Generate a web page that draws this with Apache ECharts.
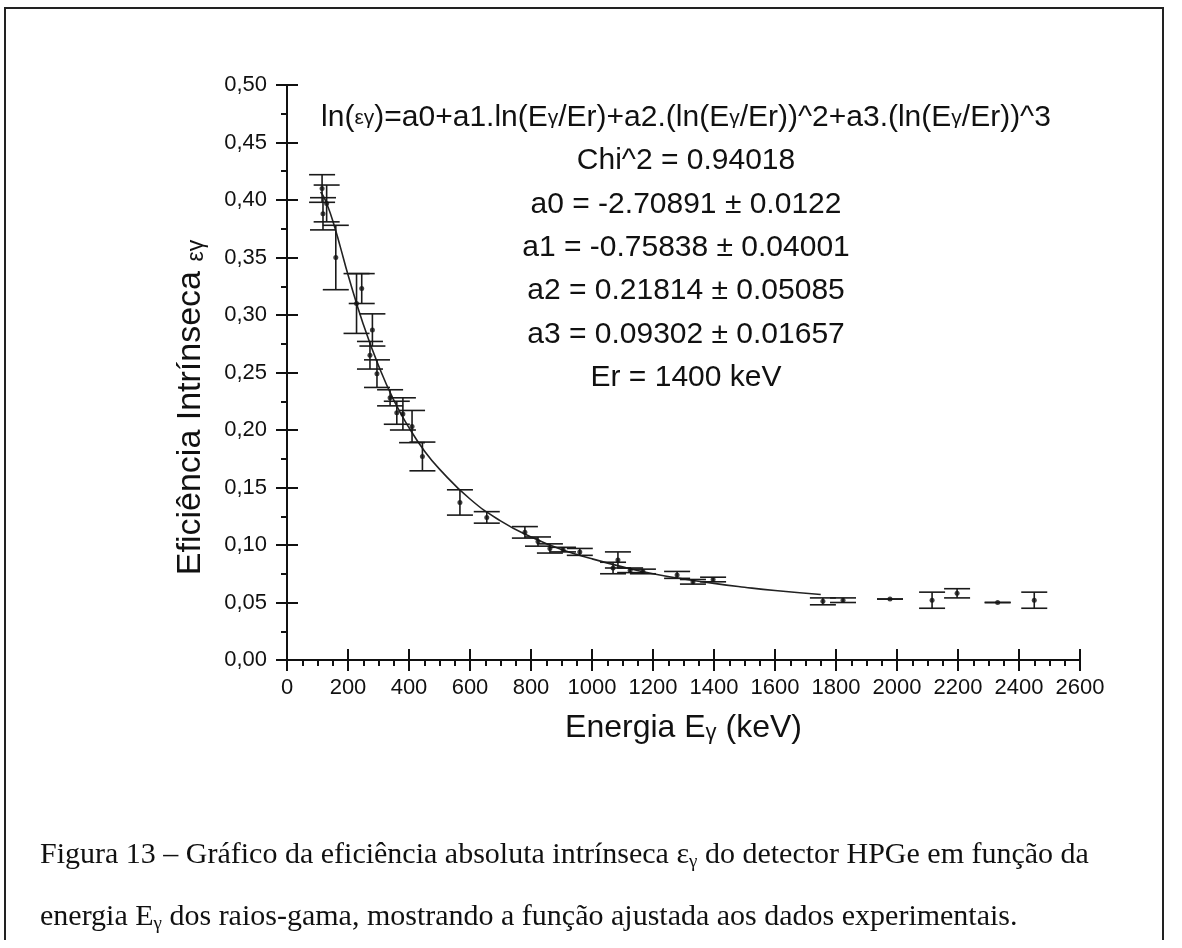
<!DOCTYPE html>
<html>
<head>
<meta charset="utf-8">
<script src="https://cdn.jsdelivr.net/npm/echarts@6/dist/echarts.min.js"></script>
<style>
html,body{margin:0;padding:0;background:#fff}
#chart{width:1182px;height:948px}
</style>
</head>
<body>
<div id="chart"></div>
<script>
// pontos experimentais: energia (keV), eficiencia e incerteza
var energia = [115, 130, 118, 160, 245, 228, 280, 272, 295, 338,
               360, 380, 410, 444, 567, 655, 780, 823, 862, 905,
               960, 1085, 1069, 1125, 1167, 1279, 1331, 1397, 1757, 1823,
               1977, 2115, 2197, 2330, 2450]
var eficiencia = [0.410, 0.397, 0.388, 0.350, 0.323, 0.310, 0.287, 0.265, 0.249, 0.228,
                  0.215, 0.214, 0.203, 0.177, 0.137, 0.124, 0.111, 0.103, 0.097, 0.096,
                  0.094, 0.087, 0.080, 0.078, 0.077, 0.074, 0.068, 0.070, 0.051, 0.052,
                  0.053, 0.052, 0.058, 0.050, 0.052]
var incerteza = [0.012, 0.016, 0.014, 0.028, 0.013, 0.026, 0.014, 0.012, 0.012, 0.007,
                 0.010, 0.014, 0.014, 0.0125, 0.011, 0.005, 0.005, 0.004, 0.004, 0.002,
                 0.003, 0.007, 0.005, 0.002, 0.002, 0.003, 0.002, 0.002, 0.003, 0.002,
                 0.000, 0.007, 0.004, 0.000, 0.007]

// curva ajustada (lida sobre o grafico)
var curvaE = [110, 120, 130, 150, 175, 200, 250, 300, 350, 400, 450, 500, 600, 700, 800,
              900, 1000, 1100, 1200, 1300, 1400, 1500, 1600, 1750]
var curvaEf = [0.407, 0.403, 0.397, 0.382, 0.359, 0.335, 0.292, 0.256, 0.226, 0.202, 0.182,
               0.166, 0.140, 0.121, 0.107, 0.096, 0.088, 0.081, 0.075, 0.0705, 0.0666, 0.0633,
               0.0604, 0.0569]

var textoAjuste = ['Chi^2 = 0.94018',
                   'a0 = -2.70891 \u00b1 0.0122',
                   'a1 = -0.75838 \u00b1 0.04001',
                   'a2 = 0.21814 \u00b1 0.05085',
                   'a3 = 0.09302 \u00b1 0.01657',
                   'Er = 1400 keV']

var pontos = []
var barras = []
for (var i = 0; i < energia.length; i++) {
  pontos.push([energia[i], eficiencia[i]])
  barras.push([energia[i], eficiencia[i], incerteza[i]])
}
var curva = []
for (var j = 0; j < curvaE.length; j++) {
  curva.push([curvaE[j], curvaEf[j]])
}

var cor = '#111'
var sans = 'Liberation Sans, Arial, sans-serif'
var serif = 'Liberation Serif, Times New Roman, serif'

function barraErro(params, api) {
  var x = api.value(0), y = api.value(1), e = api.value(2)
  var topo = api.coord([x, y + e])
  var base = api.coord([x, y - e])
  var w = 13
  var st = {stroke: '#1a1a1a', lineWidth: 1.6}
  return {
    type: 'group',
    children: [
      {type: 'line', shape: {x1: topo[0], y1: topo[1], x2: base[0], y2: base[1]}, style: st},
      {type: 'line', shape: {x1: topo[0] - w, y1: topo[1], x2: topo[0] + w, y2: topo[1]}, style: st},
      {type: 'line', shape: {x1: base[0] - w, y1: base[1], x2: base[0] + w, y2: base[1]}, style: st}
    ]
  }
}

var graficos = [
  // moldura
  {type: 'polyline', shape: {points: [[5, 940], [5, 8], [1163, 8], [1163, 940]]},
   style: {stroke: '#222', lineWidth: 2, fill: null}},
  {type: 'text', x: 686, y: 118,
   style: {text: '{n|ln(}{s|\u03b5\u03b3}{n|)=a0+a1.ln(E}{s|\u03b3}{n|/Er)+a2.(ln(E}{s|\u03b3}{n|/Er))^2+a3.(ln(E}{s|\u03b3}{n|/Er))^3}',
           align: 'center', verticalAlign: 'middle',
           rich: {n: {fontSize: 30, fontFamily: sans, fill: cor},
                  s: {fontSize: 21, fontFamily: sans, fill: cor}}}}
]
for (var k = 0; k < textoAjuste.length; k++) {
  graficos.push({type: 'text', x: 686, y: 161 + k * 43.4,
    style: {text: textoAjuste[k], fontSize: 30, fontFamily: sans, fill: cor,
            align: 'center', verticalAlign: 'middle'}})
}
// legenda da figura
graficos.push({type: 'text', x: 40, y: 855,
  style: {text: '{t|Figura 13 \u2013 Gr\u00e1fico da efici\u00eancia absoluta intr\u00ednseca \u03b5}{sub|\u03b3}{t| do detector HPGe em fun\u00e7\u00e3o da}',
          verticalAlign: 'middle',
          rich: {t: {fontSize: 30, fontFamily: serif, fill: cor, verticalAlign: 'middle'},
                 sub: {fontSize: 19, fontFamily: serif, fill: cor, verticalAlign: 'middle', padding: [14, 0, 0, 0]}}}})
graficos.push({type: 'text', x: 40, y: 917,
  style: {text: '{t|energia E}{sub|\u03b3}{t| dos raios-gama, mostrando a fun\u00e7\u00e3o ajustada aos dados experimentais.}',
          verticalAlign: 'middle',
          rich: {t: {fontSize: 30, fontFamily: serif, fill: cor, verticalAlign: 'middle'},
                 sub: {fontSize: 19, fontFamily: serif, fill: cor, verticalAlign: 'middle', padding: [14, 0, 0, 0]}}}})

var chart = echarts.init(document.getElementById('chart'), null, {renderer: 'canvas'})
chart.setOption({
  backgroundColor: '#fff',
  animation: false,
  grid: {left: 287, top: 85, width: 793, height: 575, containLabel: false},
  xAxis: [{
    type: 'value', min: 0, max: 2600, interval: 200, position: 'bottom',
    name: '{m|Energia E}{s|\u03b3}{m| (keV)}', nameLocation: 'middle', nameGap: 52,
    nameTextStyle: {verticalAlign: 'top',
                    rich: {m: {fontSize: 32, fontFamily: sans, color: cor, verticalAlign: 'bottom'},
                           s: {fontSize: 22, fontFamily: sans, color: cor, verticalAlign: 'bottom'}}},
    axisLine: {lineStyle: {color: cor, width: 2}},
    axisTick: {inside: false, length: 11, lineStyle: {color: cor, width: 2}},
    minorTick: {show: true, splitNumber: 4, length: 6, lineStyle: {color: cor, width: 2}},
    axisLabel: {fontSize: 22, fontFamily: sans, color: cor, margin: 17,
                formatter: function (v) { return String(v) }},
    splitLine: {show: false}
  }, {
    type: 'value', min: 0, max: 2600, interval: 200, position: 'bottom', offset: 0,
    axisLine: {show: false},
    axisTick: {inside: true, length: 11, lineStyle: {color: cor, width: 2}},
    axisLabel: {show: false},
    splitLine: {show: false}
  }],
  yAxis: [{
    type: 'value', min: 0, max: 0.5, interval: 0.05, position: 'left',
    name: '{m|Efici\u00eancia Intr\u00ednseca }{s|\u03b5\u03b3}', nameLocation: 'middle', nameGap: 79,
    nameTextStyle: {padding: [0, 70, 0, 0], verticalAlign: 'bottom',
                    rich: {m: {fontSize: 34, fontFamily: sans, color: cor, verticalAlign: 'bottom'},
                           s: {fontSize: 23, fontFamily: sans, color: cor, verticalAlign: 'bottom'}}},
    axisLine: {lineStyle: {color: cor, width: 2}},
    axisTick: {inside: false, length: 11, lineStyle: {color: cor, width: 2}},
    minorTick: {show: true, splitNumber: 2, length: 6, lineStyle: {color: cor, width: 2}},
    axisLabel: {fontSize: 22, fontFamily: sans, color: cor, margin: 20,
                formatter: function (v) { return v.toFixed(2).replace('.', ',') }},
    splitLine: {show: false}
  }, {
    type: 'value', min: 0, max: 0.5, interval: 0.05, position: 'left', offset: 0,
    axisLine: {show: false},
    axisTick: {inside: true, length: 11, lineStyle: {color: cor, width: 2}},
    axisLabel: {show: false},
    splitLine: {show: false}
  }],
  series: [{
    type: 'line', data: curva, smooth: true, showSymbol: false,
    lineStyle: {color: '#222', width: 1.6}, z: 2
  }, {
    type: 'custom', data: barras, renderItem: barraErro, z: 3
  }, {
    type: 'scatter', data: pontos, symbolSize: 5,
    itemStyle: {color: '#111'}, z: 4
  }],
  graphic: graficos
})
</script>
</body>
</html>
